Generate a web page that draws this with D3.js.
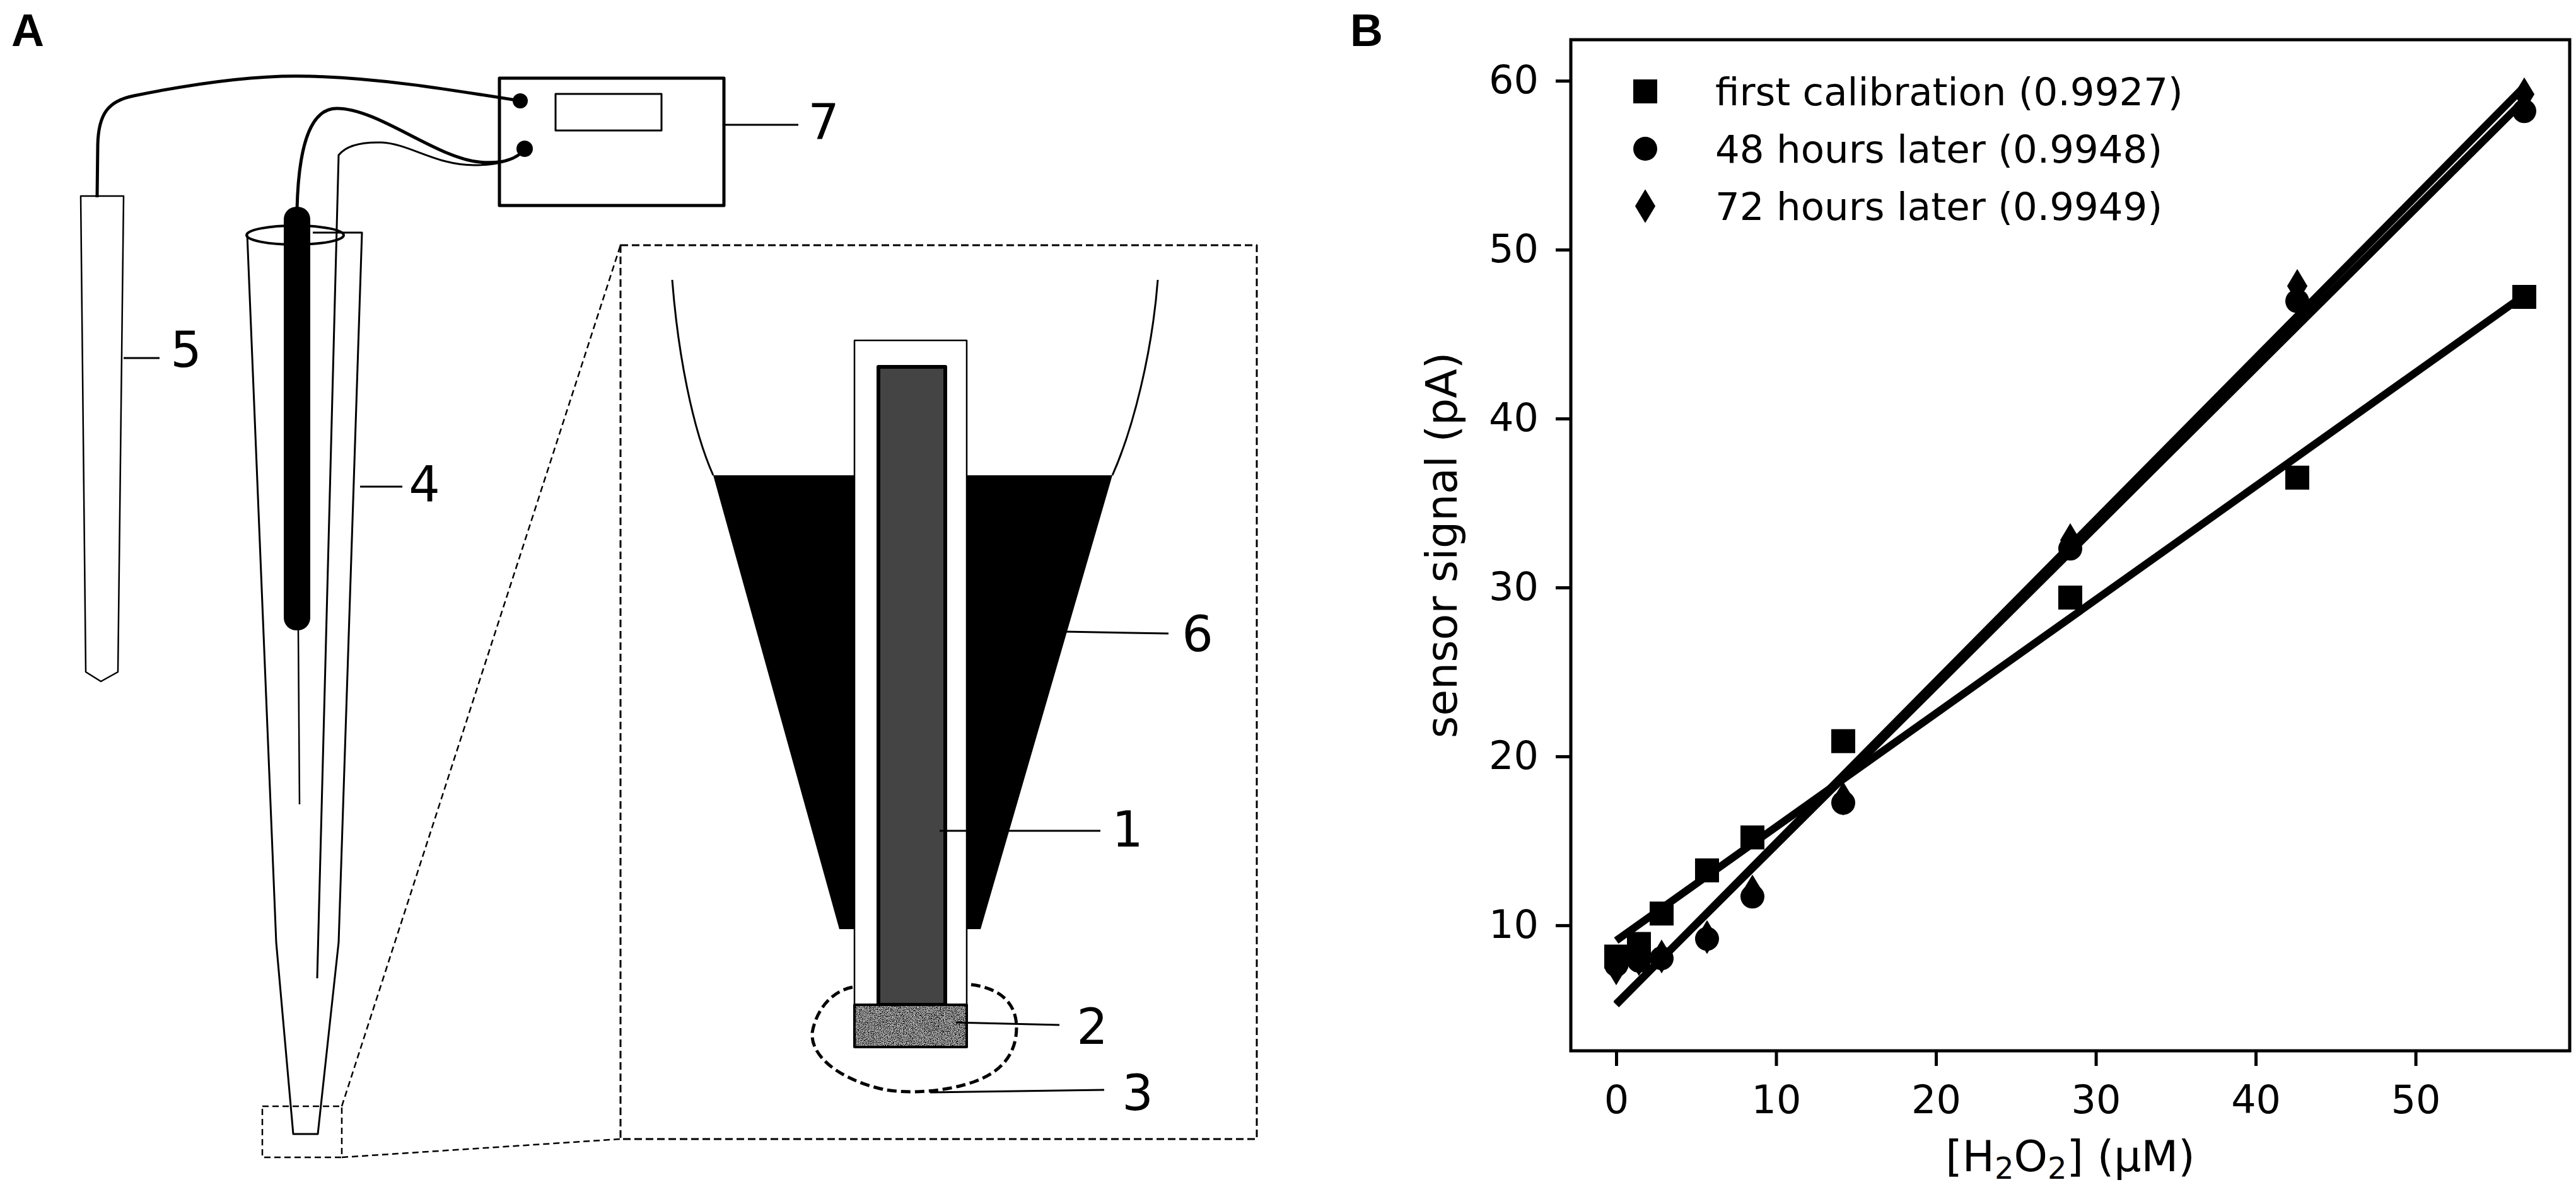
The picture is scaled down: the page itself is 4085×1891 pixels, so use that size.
<!DOCTYPE html>
<html>
<head>
<meta charset="utf-8">
<script src="https://cdn.jsdelivr.net/npm/d3@7"></script>
<style>
  html, body { margin: 0; padding: 0; background: #fff; }
  svg { display: block; }
  text { font-family: "DejaVu Sans", sans-serif; fill: #000; }
</style>
</head>
<body>
<div id="figure"></div>
<script>
// ---- panel B values ----
const concentrations = [0, 1.42, 2.84, 5.68, 8.52, 14.2, 28.4, 42.6, 56.8];
const firstCalibration = [8.15, 8.9, 10.7, 13.25, 15.2, 20.9, 29.4, 36.5, 47.2];
const hours48 = [7.65, 7.9, 8.05, 9.2, 11.7, 17.25, 32.3, 46.95, 58.2];
const hours72 = [7.45, 8.0, 8.15, 9.3, 12.0, 17.5, 32.8, 47.85, 59.2];
const seriesNames = ["first calibration (0.9927)", "48 hours later (0.9948)", "72 hours later (0.9949)"];
const fitAtStart = [9.1, 5.35, 5.3];     // fitted line at 0 µM
const fitAtEnd = [47.3, 58.85, 59.65];   // fitted line at 56.8 µM
const xTickValues = [0, 10, 20, 30, 40, 50];
const yTickValues = [10, 20, 30, 40, 50, 60];

// ---- panel A labels ----
const partLabels = ["1", "2", "3", "4", "5", "6", "7"];

const W = 4085, H = 1891;
const svg = d3.select("#figure").append("svg")
    .attr("width", W)
    .attr("height", H)
    .attr("viewBox", `0 0 ${W} ${H}`);

svg.append("rect").attr("width", W).attr("height", H).attr("fill", "#fff");

const defs = svg.append("defs");
// grainy look of the sensing layer
const grain = defs.append("filter").attr("id", "grain")
    .attr("x", 0).attr("y", 0).attr("width", 1).attr("height", 1);
grain.append("feTurbulence").attr("type", "fractalNoise")
    .attr("baseFrequency", 0.8).attr("numOctaves", 2).attr("seed", 7);
grain.append("feColorMatrix").attr("type", "matrix")
    .attr("values", "0.33 0.33 0.33 0 0  0.33 0.33 0.33 0 0  0.33 0.33 0.33 0 0  0 0 0 0 1");
const ct = grain.append("feComponentTransfer");
["feFuncR", "feFuncG", "feFuncB"].forEach(f =>
    ct.append(f).attr("type", "linear").attr("slope", 3.4).attr("intercept", -1.45));

// panel letters
svg.append("text").attr("x", 18).attr("y", 73).text("A")
    .style("font-family", "'Liberation Sans', Arial, sans-serif")
    .style("font-weight", "bold").style("font-size", "72px");
svg.append("text").attr("x", 2141).attr("y", 73).text("B")
    .style("font-family", "'Liberation Sans', Arial, sans-serif")
    .style("font-weight", "bold").style("font-size", "72px");

/* ================= panel A : schematic ================= */
const a = svg.append("g").attr("class", "panel-a")
    .attr("fill", "none").attr("stroke", "#000").attr("stroke-linejoin", "round");

// meter box (7)
a.append("rect").attr("x", 792).attr("y", 124).attr("width", 356).attr("height", 202)
    .attr("stroke-width", 5);
a.append("rect").attr("x", 881).attr("y", 149).attr("width", 168).attr("height", 58)
    .attr("stroke-width", 3);

// reference tube (5)
a.append("path").attr("d", "M128,311 L196,311 L187,1066 L160,1081 L136,1066 Z")
    .attr("stroke-width", 2.5);

// conical tube (4)
a.append("path").attr("d", "M392,372 L438,1495 L465,1799 L504,1799 L537,1495 L574,369 L496,369")
    .attr("stroke-width", 3);
a.append("ellipse").attr("cx", 468).attr("cy", 373).attr("rx", 77).attr("ry", 15)
    .attr("stroke-width", 4);

// thin wire running down the tube
a.append("path").attr("d", "M503,1552 L537,246 C548,232 572,225 605,226 C650,228 690,262 752,262 C790,262 816,255 832,237")
    .attr("stroke-width", 3);

// electrode rod and its lead
a.append("path").attr("d", "M473,1000 C474,1100 474,1180 475,1276").attr("stroke-width", 2.5);
a.append("rect").attr("x", 450).attr("y", 328).attr("width", 42).attr("height", 672)
    .attr("rx", 20).attr("fill", "#000").attr("stroke", "none");
a.append("path").attr("d", "M471,332 C473,250 486,172 534,172 C600,172 690,250 760,257 C792,260 817,255 832,237")
    .attr("stroke-width", 5);

// lead of the reference tube
a.append("path").attr("d", "M154,313 L155,230 C156,180 172,160 212,152 C300,134 400,118 491,121 C600,124 700,140 825,160")
    .attr("stroke-width", 5);

// terminals
a.append("circle").attr("cx", 825).attr("cy", 160).attr("r", 12).attr("fill", "#000").attr("stroke", "none");
a.append("circle").attr("cx", 832).attr("cy", 236).attr("r", 13).attr("fill", "#000").attr("stroke", "none");

// zoom boxes
a.append("rect").attr("x", 416).attr("y", 1755).attr("width", 126).attr("height", 81)
    .attr("stroke-width", 2.5).attr("stroke-dasharray", "10,6");
a.append("rect").attr("x", 984).attr("y", 389).attr("width", 1009).attr("height", 1418)
    .attr("stroke-width", 3).attr("stroke-dasharray", "12,6");
a.append("path").attr("d", "M542,1755 L984,389 M542,1836 L984,1807")
    .attr("stroke-width", 2.5).attr("stroke-dasharray", "10,6");

// inset: tube walls and solution (6)
a.append("path").attr("d", "M1066,444 C1075,560 1098,680 1131,754").attr("stroke-width", 3);
a.append("path").attr("d", "M1836,444 C1827,560 1797,680 1764,754").attr("stroke-width", 3);
a.append("path").attr("d", "M1131,754 L1764,754 L1555,1474 L1331,1474 Z")
    .attr("fill", "#000").attr("stroke", "none");

// dashed region (3)
a.append("path")
    .attr("d", "M1352,1566 C1320,1572 1295,1600 1288,1638 C1285,1675 1330,1712 1400,1728 C1440,1736 1500,1732 1545,1716 C1590,1700 1612,1670 1612,1630 C1612,1595 1590,1568 1540,1562")
    .attr("stroke-width", 5).attr("stroke-dasharray", "15,7");

// electrode (1) with sensing layer (2)
a.append("rect").attr("x", 1355).attr("y", 540).attr("width", 178).attr("height", 1054)
    .attr("fill", "#fff").attr("stroke-width", 2.5);
a.append("rect").attr("x", 1393).attr("y", 582).attr("width", 106).attr("height", 1012)
    .attr("fill", "#444").attr("stroke-width", 6);
a.append("rect").attr("x", 1355).attr("y", 1594).attr("width", 178).attr("height", 67)
    .attr("fill", "#666").attr("stroke", "none").attr("filter", "url(#grain)");
a.append("rect").attr("x", 1355).attr("y", 1594).attr("width", 178).attr("height", 67)
    .attr("stroke-width", 4);

// leader lines and numbers
const leaders = [
    { x1: 1490, y1: 1318, x2: 1745, y2: 1318, tx: 1788, ty: 1343 },
    { x1: 1516, y1: 1622, x2: 1680, y2: 1626, tx: 1732, ty: 1656 },
    { x1: 1475, y1: 1733, x2: 1751, y2: 1729, tx: 1804, ty: 1761 },
    { x1: 571, y1: 772, x2: 638, y2: 772, tx: 673, ty: 796 },
    { x1: 196, y1: 568, x2: 253, y2: 568, tx: 295, ty: 582 },
    { x1: 1688, y1: 1002, x2: 1853, y2: 1005, tx: 1899, ty: 1033 },
    { x1: 1149, y1: 198, x2: 1266, y2: 198, tx: 1306, ty: 221 }
];
a.selectAll("line.leader").data(leaders).join("line")
    .attr("class", "leader")
    .attr("x1", d => d.x1).attr("y1", d => d.y1)
    .attr("x2", d => d.x2).attr("y2", d => d.y2)
    .attr("stroke-width", 3);
svg.selectAll("text.part").data(leaders).join("text")
    .attr("class", "part")
    .attr("x", d => d.tx).attr("y", d => d.ty)
    .attr("text-anchor", "middle")
    .style("font-size", "78px")
    .text((d, i) => partLabels[i]);

/* ================= panel B : calibration chart ================= */
const plot = { left: 2491, right: 4075, top: 63, bottom: 1667 };

const xScale = d3.scaleLinear().domain([-2.84, 59.64]).range([plot.left, plot.right]);
const yScale = d3.scaleLinear().domain([2.57, 62.43]).range([plot.bottom, plot.top]);

const b = svg.append("g").attr("class", "panel-b");

const tickFont = 62;
const xAxis = d3.axisBottom(xScale).tickValues(xTickValues).tickSize(24).tickPadding(31)
    .tickFormat(d3.format("d"));
const yAxis = d3.axisLeft(yScale).tickValues(yTickValues).tickSize(24).tickPadding(27)
    .tickFormat(d3.format("d"));

const gx = b.append("g").attr("transform", `translate(0,${plot.bottom})`).call(xAxis);
const gy = b.append("g").attr("transform", `translate(${plot.left},0)`).call(yAxis);
[gx, gy].forEach(g => {
    g.select(".domain").remove();
    g.selectAll(".tick line").attr("stroke", "#000").attr("stroke-width", 5);
    g.selectAll(".tick text").attr("fill", "#000")
        .style("font-family", "'DejaVu Sans', sans-serif")
        .style("font-size", tickFont + "px");
});

// fitted lines
const line = d3.line().x(d => xScale(d[0])).y(d => yScale(d[1]));
const lastConc = concentrations[concentrations.length - 1];
b.selectAll("path.fit").data(fitAtStart.map((s, i) => [[0, s], [lastConc, fitAtEnd[i]]]))
    .join("path")
    .attr("class", "fit")
    .attr("d", line)
    .attr("fill", "none")
    .attr("stroke", "#000")
    .attr("stroke-width", 12);

// marker shapes
const ms = 38;
const thinDiamond = {
    draw(context, size) {
        const h = Math.sqrt(size) * 0.7071, w = h * 0.6;
        context.moveTo(0, -h);
        context.lineTo(w, 0);
        context.lineTo(0, h);
        context.lineTo(-w, 0);
        context.closePath();
    }
};
const shapes = [
    d3.symbol(d3.symbolSquare, ms * ms),
    d3.symbol(d3.symbolCircle, Math.PI * (ms / 2) * (ms / 2)),
    d3.symbol(thinDiamond, ms * ms)
];
const series = [firstCalibration, hours48, hours72];

series.forEach((vals, si) => {
    b.selectAll(`path.pt${si}`).data(vals).join("path")
        .attr("class", `pt${si}`)
        .attr("transform", (d, i) => `translate(${xScale(concentrations[i])},${yScale(d)})`)
        .attr("d", shapes[si])
        .attr("fill", "#000");
});

// frame
b.append("rect")
    .attr("x", plot.left).attr("y", plot.top)
    .attr("width", plot.right - plot.left).attr("height", plot.bottom - plot.top)
    .attr("fill", "none").attr("stroke", "#000").attr("stroke-width", 5);

// legend
const legend = b.append("g").attr("transform", "translate(2609,145)");
const rowGap = 91;
seriesNames.forEach((name, i) => {
    legend.append("path")
        .attr("transform", `translate(0,${i * rowGap})`)
        .attr("d", shapes[i]).attr("fill", "#000");
    legend.append("text")
        .attr("x", 111).attr("y", i * rowGap + 22)
        .style("font-size", "61px")
        .text(name);
});

// axis titles
b.append("text")
    .attr("transform", `translate(2310,${(plot.top + plot.bottom) / 2}) rotate(-90)`)
    .attr("text-anchor", "middle")
    .style("font-size", "68px")
    .text("sensor signal (pA)");

const xt = b.append("text")
    .attr("x", (plot.left + plot.right) / 2).attr("y", 1858)
    .attr("text-anchor", "middle")
    .style("font-size", "68px");
xt.append("tspan").text("[H");
xt.append("tspan").attr("dy", 12).style("font-size", "48px").text("2");
xt.append("tspan").attr("dy", -12).text("O");
xt.append("tspan").attr("dy", 12).style("font-size", "48px").text("2");
xt.append("tspan").attr("dy", -12).text("] (µM)");
</script>
</body>
</html>
